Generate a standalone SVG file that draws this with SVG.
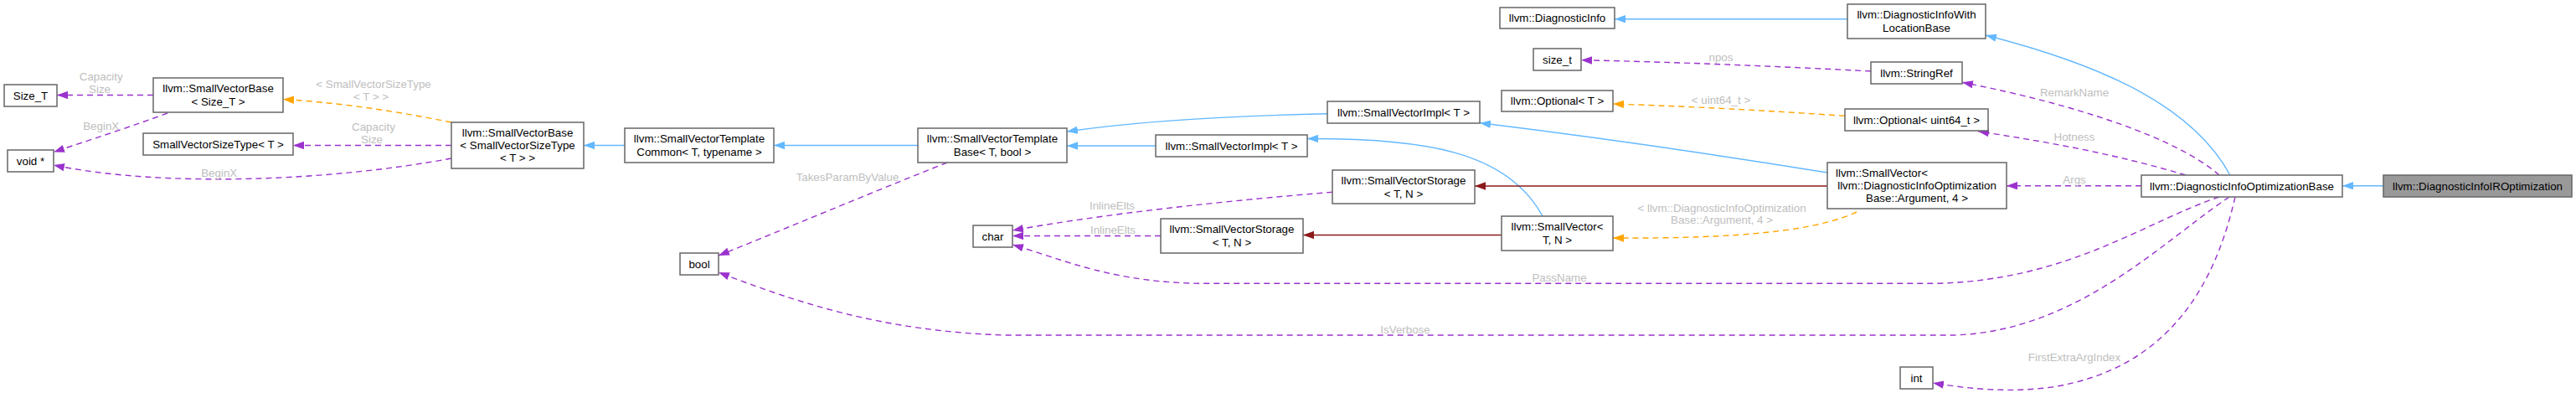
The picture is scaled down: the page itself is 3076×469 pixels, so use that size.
<svg xmlns="http://www.w3.org/2000/svg" width="3076" height="469" viewBox="0 0 3076 469">
<style>
text{font-family:"Liberation Sans",Arial,Helvetica,sans-serif;font-size:13.33px;}
.n rect{fill:#ffffff;stroke:#666666;stroke-width:1.5;}
.n text{fill:#000000;text-anchor:middle;}
.main rect{fill:#999999;}
.lbl{fill:#bebebe;text-anchor:middle;}
.e{fill:none;stroke-width:1.4;}
.blue{stroke:#63b8ff;marker-end:url(#aBlue);}
.red{stroke:#8b1a1a;marker-end:url(#aRed);}
.pur{stroke:#9a32cd;stroke-dasharray:7,5;marker-end:url(#aPur);}
.org{stroke:#ffa500;stroke-dasharray:7,5;marker-end:url(#aOrg);}
</style>
<defs>
<marker id="aBlue" markerUnits="userSpaceOnUse" markerWidth="14" markerHeight="10" refX="13" refY="4.7" orient="auto"><path d="M0,0 L13,4.7 L0,9.4 Z" fill="#63b8ff"/></marker>
<marker id="aRed" markerUnits="userSpaceOnUse" markerWidth="14" markerHeight="10" refX="13" refY="4.7" orient="auto"><path d="M0,0 L13,4.7 L0,9.4 Z" fill="#8b1a1a"/></marker>
<marker id="aPur" markerUnits="userSpaceOnUse" markerWidth="14" markerHeight="10" refX="13" refY="4.7" orient="auto"><path d="M0,0 L13,4.7 L0,9.4 Z" fill="#9a32cd"/></marker>
<marker id="aOrg" markerUnits="userSpaceOnUse" markerWidth="14" markerHeight="10" refX="13" refY="4.7" orient="auto"><path d="M0,0 L13,4.7 L0,9.4 Z" fill="#ffa500"/></marker>
</defs>
<rect x="0" y="0" width="3076" height="469" fill="#ffffff"/>
<g id="edges">
<path class="e pur" d="M183,113.5 L68,113.5"/>
<path class="e pur" d="M200,135 C160,150 110,166 64,181.5"/>
<path class="e org" d="M539,146 C470,132 400,122 338,118.5"/>
<path class="e pur" d="M539,173.5 L350,173.5"/>
<path class="e pur" d="M539,189 C400,215 200,225 64,197"/>
<path class="e blue" d="M746,173.5 L697,173.5"/>
<path class="e blue" d="M1096,173.5 L924,173.5"/>
<path class="e pur" d="M1131,194 C1040,230 950,268 858,305"/>
<path class="e blue" d="M1585,135.7 C1480,138 1370,143 1274,157"/>
<path class="e blue" d="M1380,174 L1274,174"/>
<path class="e pur" d="M1591,229.3 C1460,240 1320,255 1209,275"/>
<path class="e pur" d="M1386,281.5 L1209,281.5"/>
<path class="e blue" d="M1842,258 C1800,180 1700,165 1561,165.5"/>
<path class="e red" d="M1793,280.5 L1556,280.5"/>
<path class="e blue" d="M2182,206 C2040,183 1900,163 1767,146.7"/>
<path class="e red" d="M2182,222 L1761,222"/>
<path class="e org" d="M2217,253 C2170,275 2080,285 1926,284"/>
<path class="e org" d="M2203,138.3 C2110,132 2020,127 1926,124"/>
<path class="e pur" d="M2234,85 C2120,79 2000,74 1888,71.7"/>
<path class="e blue" d="M2206,22.7 L1928,22.7"/>
<path class="e blue" d="M2663,209 C2620,130 2520,80 2371,42"/>
<path class="e pur" d="M2650,209 C2600,165 2480,125 2343,98.3"/>
<path class="e pur" d="M2610,209 C2530,185 2450,170 2362,156.7"/>
<path class="e pur" d="M2557,221.7 L2396,221.7"/>
<path class="e blue" d="M2846,221.7 L2797,221.7"/>
<path class="e pur" d="M2650,235 C2560,265 2470,335 2310,338.3 L1440,338.3 C1330,338 1270,310 1209,292"/>
<path class="e pur" d="M2662,235 C2580,290 2480,395 2333,400 L1200,400 C1050,395 950,360 858,325"/>
<path class="e pur" d="M2669,235 C2645,340 2590,440 2450,462 C2400,469 2350,464 2308,457"/>
<text class="lbl" x="120.7" y="96.4">Capacity</text>
<text class="lbl" x="119" y="111.4">Size</text>
<text class="lbl" x="120.7" y="154.7">BeginX</text>
<text class="lbl" x="446" y="105.4">&lt; SmallVectorSizeType</text>
<text class="lbl" x="443" y="119.7">&lt; T &gt; &gt;</text>
<text class="lbl" x="446" y="156.4">Capacity</text>
<text class="lbl" x="444" y="170.7">Size</text>
<text class="lbl" x="261.7" y="210.7">BeginX</text>
<text class="lbl" x="1012" y="216.4">TakesParamByValue</text>
<text class="lbl" x="1328" y="250">InlineElts</text>
<text class="lbl" x="1329" y="279">InlineElts</text>
<text class="lbl" x="1862" y="336.4">PassName</text>
<text class="lbl" x="1678" y="398">IsVerbose</text>
<text class="lbl" x="2056" y="252.7">&lt; llvm::DiagnosticInfoOptimization</text>
<text class="lbl" x="2056" y="267.4">Base::Argument, 4 &gt;</text>
<text class="lbl" x="2055" y="123.7">&lt; uint64_t &gt;</text>
<text class="lbl" x="2055" y="73">npos</text>
<text class="lbl" x="2477" y="115.4">RemarkName</text>
<text class="lbl" x="2477" y="168">Hotness</text>
<text class="lbl" x="2477" y="219">Args</text>
<text class="lbl" x="2477" y="431.4">FirstExtraArgIndex</text>
</g>
<g id="n_size_T" class="n"><rect x="5" y="101" width="63" height="26"/><text x="36.5" y="118.7">Size_T</text></g>
<g id="n_svbase_sizeT" class="n"><rect x="183" y="93" width="155" height="41"/><text x="260.5" y="110.4">llvm::SmallVectorBase</text><text x="260.5" y="126">&lt; Size_T &gt;</text></g>
<g id="n_voidptr" class="n"><rect x="9" y="179" width="55" height="26"/><text x="36.5" y="196.7">void *</text></g>
<g id="n_svst" class="n"><rect x="171" y="159" width="179" height="26"/><text x="260.5" y="176.7">SmallVectorSizeType&lt; T &gt;</text></g>
<g id="n_svbase_svst" class="n"><rect x="539" y="146" width="158" height="55"/><text x="618" y="163.2">llvm::SmallVectorBase</text><text x="618" y="178.2">&lt; SmallVectorSizeType</text><text x="618" y="193.2">&lt; T &gt; &gt;</text></g>
<g id="n_svtc" class="n"><rect x="746" y="153" width="178" height="41"/><text x="835" y="170.4">llvm::SmallVectorTemplate</text><text x="835" y="186">Common&lt; T, typename &gt;</text></g>
<g id="n_svtb" class="n"><rect x="1096" y="153" width="178" height="41"/><text x="1185" y="170.4">llvm::SmallVectorTemplate</text><text x="1185" y="186">Base&lt; T, bool &gt;</text></g>
<g id="n_bool" class="n"><rect x="812" y="302" width="46" height="26"/><text x="835" y="319.7">bool</text></g>
<g id="n_char" class="n"><rect x="1162" y="269" width="47" height="26"/><text x="1185.5" y="286.7">char</text></g>
<g id="n_svimpl_top" class="n"><rect x="1585" y="121" width="182" height="26"/><text x="1676" y="138.7">llvm::SmallVectorImpl&lt; T &gt;</text></g>
<g id="n_svimpl_low" class="n"><rect x="1380" y="161" width="181" height="26"/><text x="1470.5" y="178.7">llvm::SmallVectorImpl&lt; T &gt;</text></g>
<g id="n_svstorage_up" class="n"><rect x="1591" y="203" width="170" height="40"/><text x="1676" y="219.9">llvm::SmallVectorStorage</text><text x="1676" y="235.5">&lt; T, N &gt;</text></g>
<g id="n_svstorage_low" class="n"><rect x="1386" y="261" width="170" height="41"/><text x="1471" y="278.4">llvm::SmallVectorStorage</text><text x="1471" y="294">&lt; T, N &gt;</text></g>
<g id="n_smallvector_tn" class="n"><rect x="1793" y="258" width="133" height="41"/><text x="1859.5" y="275.4">llvm::SmallVector&lt;</text><text x="1859.5" y="291">T, N &gt;</text></g>
<g id="n_diaginfo" class="n"><rect x="1791" y="9" width="137" height="25"/><text x="1859.5" y="26.2">llvm::DiagnosticInfo</text></g>
<g id="n_size_t" class="n"><rect x="1831" y="58" width="57" height="26"/><text x="1859.5" y="75.7">size_t</text></g>
<g id="n_optional_t" class="n"><rect x="1793" y="108" width="133" height="25"/><text x="1859.5" y="125.2">llvm::Optional&lt; T &gt;</text></g>
<g id="n_diwlb" class="n"><rect x="2206" y="5" width="165" height="41"/><text x="2288.5" y="22.4">llvm::DiagnosticInfoWith</text><text x="2288.5" y="38">LocationBase</text></g>
<g id="n_stringref" class="n"><rect x="2234" y="74" width="109" height="26"/><text x="2288.5" y="91.7">llvm::StringRef</text></g>
<g id="n_optional_u64" class="n"><rect x="2203" y="130" width="171" height="26"/><text x="2288.5" y="147.7">llvm::Optional&lt; uint64_t &gt;</text></g>
<g id="n_smallvector_arg" class="n"><rect x="2182" y="194" width="214" height="55"/><text x="2192" y="211.2" style="text-anchor:start">llvm::SmallVector&lt;</text><text x="2289" y="226.2">llvm::DiagnosticInfoOptimization</text><text x="2289" y="241.2">Base::Argument, 4 &gt;</text></g>
<g id="n_diob" class="n"><rect x="2557" y="209" width="240" height="26"/><text x="2677" y="226.7">llvm::DiagnosticInfoOptimizationBase</text></g>
<g id="n_iropt" class="n main"><rect x="2846" y="209" width="225" height="26"/><text x="2958.5" y="226.7">llvm::DiagnosticInfoIROptimization</text></g>
<g id="n_int" class="n"><rect x="2269" y="438" width="39" height="26"/><text x="2288.5" y="455.7">int</text></g>
</svg>
